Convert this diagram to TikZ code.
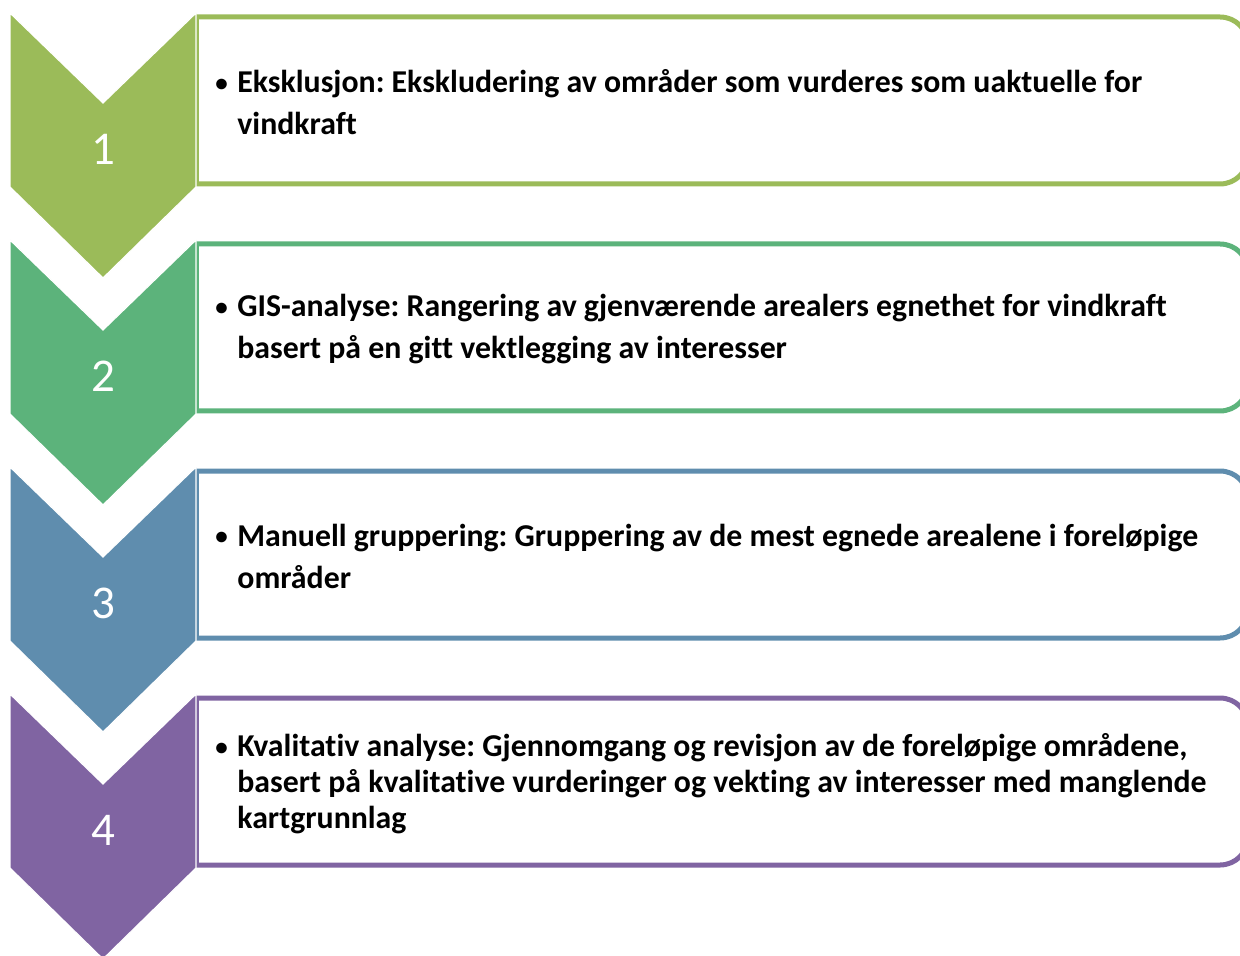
\documentclass[tikz,border=0pt]{standalone}
\usepackage{fontspec}
\setmainfont[Ligatures=NoCommon]{Carlito}
\frenchspacing
\definecolor{cA}{HTML}{9BBB59}
\definecolor{cB}{HTML}{5CB37B}
\definecolor{cC}{HTML}{5F8DAE}
\definecolor{cD}{HTML}{8064A2}
\newcommand{\bul}{\makebox[11pt][l]{\fontsize{12.5}{12}\selectfont\raisebox{0.6pt}{•}}}
\begin{document}
\begin{tikzpicture}[x=0.5pt,y=-0.5pt,
  chev/.style={draw=white, line width=0.6pt},
  num/.style={text=white, inner sep=0pt, font=\fontsize{23.5}{28}\selectfont},
  txt/.style={anchor=west, align=left, inner sep=0pt, font=\bfseries\fontsize{15.9}{21}\selectfont},
  txtb/.style={txt, font=\bfseries\fontsize{15.9}{18}\selectfont}]
\useasboundingbox (0,0) rectangle (1240,956);
\clip (0,0) rectangle (1240,956);
\foreach \k/\c in {0/cA,1/cB,2/cC,3/cD}{
  \pgfmathsetmacro{\o}{227*\k}
  \fill[white, rounded corners=14pt] (180,17+\o) rectangle (1248,184+\o);
  \draw[line width=2.5pt, draw=\c, rounded corners=14pt] (196,17+\o) -- (1248,17+\o) -- (1248,184+\o) -- (196,184+\o);
  \draw[line width=2.5pt, draw=\c] (196,17+\o) -- (196,184+\o);
  \filldraw[chev, fill=\c] (10,13+\o) -- (103,103+\o) -- (196,13+\o) -- (196,187+\o) -- (103,278+\o) -- (10,187+\o) -- cycle;
}
\node[num] (n1) at (103,149) {1};
\node[num] (n2) at (103,376) {2};
\node[num] (n3) at (103,603) {3};
\node[num] (n4) at (103,830) {4};
\node[txt] (t1) at (215,102) {\bul Eksklusjon: Ekskludering av områder som vurderes som uaktuelle for\\\hspace*{11pt}vindkraft};
\node[txt] (t2) at (215,329) {\bul GIS-analyse: Rangering av gjenværende arealers egnethet for vindkraft\\\hspace*{11pt}basert på en gitt vektlegging av interesser};
\node[txt] (t3) at (215,556) {\bul Manuell gruppering: Gruppering av de mest egnede arealene i foreløpige\\\hspace*{11pt}områder};
\node[txtb] (t4) at (215,784) {\bul Kvalitativ analyse: Gjennomgang og revisjon av de foreløpige områdene,\\\hspace*{11pt}basert på kvalitative vurderinger og vekting av interesser med manglende\\\hspace*{11pt}kartgrunnlag};
\end{tikzpicture}
\end{document}
